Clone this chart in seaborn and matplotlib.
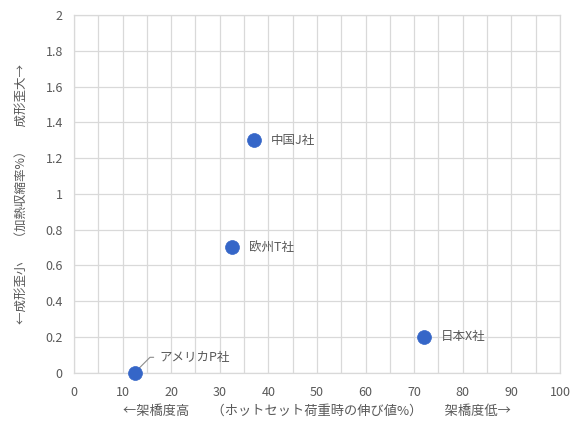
import matplotlib
matplotlib.use("Agg")
import matplotlib.pyplot as plt
import seaborn as sns
import pandas as pd
from matplotlib.ticker import MultipleLocator

# Companies and their measured values
companies = ["中国J社", "欧州T社", "日本X社", "アメリカP社"]
elongation = [37, 32.5, 72, 12.5]      # ホットセット荷重時の伸び値 (%)
shrinkage = [1.3, 0.7, 0.2, 0.0]       # 加熱収縮率 (%)

x_label = "←架橋度高　   （ホットセット荷重時の伸び値%）　   架橋度低→"
y_label = "←成形歪小　  （加熱収縮率%）　  成形歪大→"

df = pd.DataFrame({"company": companies, "x": elongation, "y": shrinkage})

sns.set_style("white")
plt.rcParams["font.family"] = ["Noto Sans CJK JP", "DejaVu Sans"]

text_gray = "#595959"
grid_gray = "#d9d9d9"
dot_blue = "#3566c8"

fig = plt.figure(figsize=(5.87, 4.21), dpi=100)
ax = fig.add_axes([0.126, 0.115, 0.828, 0.849])

sns.scatterplot(data=df, x="x", y="y", ax=ax, s=100, color=dot_blue,
                edgecolor=dot_blue, linewidth=0.5, zorder=5, clip_on=False)

ax.set_xlim(0, 100)
ax.set_ylim(0, 2)
ax.xaxis.set_major_locator(MultipleLocator(10))
ax.xaxis.set_minor_locator(MultipleLocator(5))
ax.yaxis.set_major_locator(MultipleLocator(0.2))
ax.yaxis.set_major_formatter(matplotlib.ticker.FuncFormatter(
    lambda v, p: f"{v:.1f}".rstrip("0").rstrip(".") if v else "0"))

ax.grid(True, which="major", color=grid_gray, linewidth=0.9)
ax.grid(True, which="minor", axis="x", color=grid_gray, linewidth=0.9)
ax.set_axisbelow(True)
for sp in ax.spines.values():
    sp.set_color(grid_gray)
    sp.set_linewidth(0.9)

ax.tick_params(axis="both", which="both", length=0, labelsize=9,
               labelcolor=text_gray)
ax.tick_params(axis="x", pad=10)
ax.tick_params(axis="y", pad=8)

ax.set_xlabel(x_label, fontsize=9.5, color=text_gray, labelpad=4)
ax.set_ylabel(y_label, fontsize=9, color=text_gray, labelpad=13)

# Point labels
for name, xv, yv in zip(companies, elongation, shrinkage):
    if name == "アメリカP社":
        ax.annotate(name, xy=(xv, yv), xytext=(18, 11),
                    textcoords="offset points", fontsize=9, color=text_gray,
                    va="center", ha="left",
                    arrowprops=dict(arrowstyle="-", color="#8c8c8c", lw=0.8,
                                    shrinkA=2, shrinkB=3, relpos=(0, 0.5),
                                    connectionstyle="angle,angleA=0,angleB=45,rad=0"))
    else:
        ax.annotate(name, xy=(xv, yv), xytext=(12, 0),
                    textcoords="offset points", fontsize=9, color=text_gray,
                    va="center", ha="left")

fig.savefig("out.png", dpi=100, facecolor="white")
